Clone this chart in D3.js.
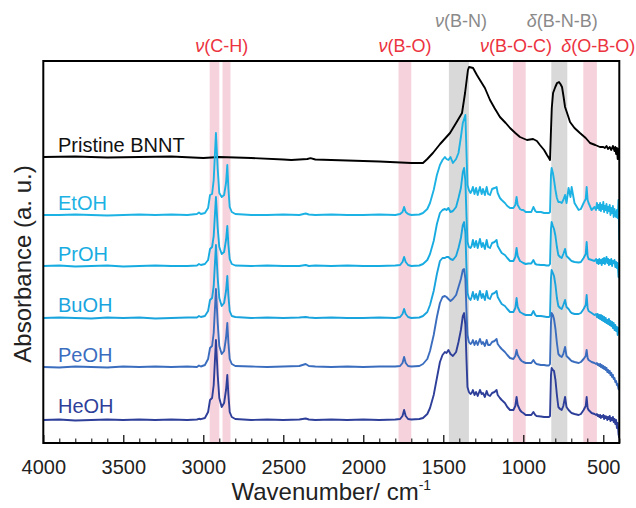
<!DOCTYPE html>
<html><head><meta charset="utf-8">
<script src="https://cdn.jsdelivr.net/npm/d3@7/dist/d3.min.js"></script>
<style>
html,body{margin:0;padding:0;background:#fff;}
svg{display:block;font-family:"Liberation Sans",Arial,Helvetica,sans-serif;}
</style></head>
<body><svg id="chart" width="636" height="508"></svg>
<script>
// ---------------- DATA ----------------
const majorTicks = [4000,3500,3000,2500,2000,1500,1000,500];
const seriesNames = ["EtOH","PrOH","BuOH","PeOH","HeOH"];
const seriesColors = ["#1db2e4","#17ace1","#1aa4de","#3b6dbf","#2e3f9a"];
const seriesOffsets = [2.28,1.77,1.25,0.76,0.23];
const pristineName = "Pristine BNNT";
const pristineOffset = 2.86;
const redBands = [[2960,2900],[2880,2830],[1780,1700],[1065,985],[625,540]];
const grayBands = [[1465,1340],[825,725]];
const redLabels = [["ν","(C-H)",2885],["ν","(B-O)",1740],["ν","(B-O-C)",1045],["δ","(O-B-O)",532]];
const grayLabels = [["ν","(B-N)",1390],["δ","(B-N-B)",757]];

const pristineWn = [4000,3800,3600,3400,3200,3000,2900,2700,2500,2450,2350,2330,2300,2100,1900,1700,1627,1600,1565,1520,1458,1420,1383,1364,1346,1339,1326,1314,1290,1271,1240,1208,1180,1146,1110,1083,1050,1021,977,939,915,896,870,852,840,833,828,822,814,800,789,777,768,758,748,739,720,708,680,646,610,583,550,521,500,490,480,470,460,450,440,430,425,420,415,410,405,400];
const pristineAbs = [0,0.005,-0.005,0,0.005,-0.01,0,-0.01,-0.025,-0.03,-0.02,-0.012,-0.025,-0.035,-0.045,-0.06,-0.06,-0.02,0.04,0.13,0.24,0.34,0.44,0.64,0.87,0.90,0.895,0.89,0.82,0.77,0.69,0.57,0.49,0.40,0.34,0.29,0.24,0.20,0.17,0.18,0.16,0.12,0.07,0.02,-0.01,-0.03,0.22,0.49,0.64,0.70,0.74,0.75,0.73,0.70,0.60,0.50,0.41,0.35,0.29,0.24,0.19,0.14,0.12,0.10,0.10,0.09,0.11,0.08,0.10,0.07,0.11,0.06,0.10,0.03,0.09,-0.02,0.08,-0.03];

const treatedWn = [4000,3900,3800,3700,3600,3500,3400,3300,3200,3100,
 3040,3027,3015,2990,2970,2958,2945,2935,2921,2910,
 2900,2885,2870,2858,2850,2843,2835,2822,2800,2700,
 2600,2500,2400,2360,2340,2300,2200,2100,2000,1900,
 1800,1770,1755,1745,1735,1720,1700,1650,1627,1600,
 1583,1560,1540,1521,1505,1490,1480,1468,1455,1440,
 1420,1405,1390,1378,1370,1362,1355,1349,1340,1330,
 1323,1315,1305,1295,1285,1271,1260,1252,1240,1229,
 1220,1208,1195,1180,1167,1160,1146,1135,1115,1100,
 1083,1062,1050,1042,1035,1021,1010,1000,985,969,
 950,937,925,917,890,870,854,840,833,827,
 823,815,808,799,790,781,770,760,750,739,
 730,717,705,698,680,654,640,623,610,604,
 598,592,573,555,545,540,535,530,525,520,
 515,510,505,500,495,490,485,480,475,470,
 465,460,455,450,445,440,435,430,425,420,
 415,410,405,400];

const etohAbs = [0.00,0.00,0.005,0.00,-0.005,0.00,0.005,0.00,0.005,0.00,
 0.01,0.025,0.01,0.02,0.07,0.20,0.21,0.35,0.82,0.46,
 0.22,0.18,0.20,0.32,0.50,0.26,0.08,0.03,0.01,0.00,
 0.00,0.005,0.00,0.015,0.005,0.00,0.005,0.00,0.00,0.005,
 0.00,0.01,0.03,0.08,0.03,0.01,0.00,0.005,0.02,0.06,
 0.12,0.25,0.40,0.50,0.55,0.58,0.56,0.55,0.58,0.52,
 0.56,0.62,0.78,0.92,0.96,1.00,0.62,0.30,0.25,0.22,
 0.24,0.28,0.21,0.27,0.20,0.28,0.21,0.26,0.20,0.28,
 0.21,0.20,0.26,0.27,0.28,0.22,0.17,0.15,0.12,0.09,
 0.07,0.07,0.10,0.18,0.10,0.06,0.05,0.05,0.03,0.03,
 0.03,0.08,0.04,0.03,0.03,0.02,0.02,0.02,0.03,0.40,
 0.47,0.42,0.35,0.25,0.17,0.13,0.13,0.12,0.15,0.20,
 0.12,0.27,0.18,0.28,0.12,0.05,0.06,0.12,0.16,0.28,
 0.15,0.12,0.05,0.08,0.05,0.12,0.07,0.10,0.05,0.12,
 0.04,0.10,0.06,0.13,0.03,0.09,0.05,0.11,0.02,0.08,
 0.04,0.10,0.00,0.07,0.02,0.09,-0.02,0.06,0.00,-0.02,
 0.05,-0.03,0.15,-0.25];

const prohAbs = [0.00,0.005,-0.005,0.00,0.005,-0.005,0.00,0.005,0.00,0.00,
 0.005,0.02,0.01,0.02,0.06,0.17,0.19,0.30,0.69,0.38,
 0.19,0.12,0.14,0.26,0.40,0.21,0.07,0.02,0.005,0.00,
 0.005,0.00,0.00,0.01,0.00,0.005,0.00,0.005,0.00,0.00,
 0.005,0.01,0.04,0.09,0.04,0.01,0.00,0.005,0.02,0.06,
 0.12,0.25,0.42,0.53,0.56,0.57,0.56,0.58,0.54,0.55,
 0.59,0.68,0.78,0.94,0.98,0.85,0.50,0.24,0.19,0.18,
 0.20,0.26,0.19,0.25,0.18,0.27,0.19,0.23,0.17,0.26,
 0.19,0.18,0.23,0.24,0.26,0.20,0.16,0.13,0.11,0.08,
 0.05,0.05,0.09,0.18,0.10,0.05,0.04,0.03,0.02,0.025,
 0.025,0.06,0.02,0.015,0.01,0.01,0.005,0.005,0.02,0.37,
 0.44,0.40,0.37,0.30,0.19,0.11,0.09,0.08,0.12,0.17,
 0.10,0.08,0.06,0.05,0.04,0.035,0.04,0.08,0.12,0.24,
 0.10,0.07,0.06,0.05,0.07,0.03,0.06,0.02,0.07,0.03,
 0.06,0.01,0.07,0.03,0.08,0.02,0.06,0.09,0.03,0.07,
 0.01,0.06,0.02,0.07,0.00,0.05,0.03,0.06,-0.01,0.04,
 -0.02,0.03,-0.11,-0.05];

const buohAbs = [0.00,0.005,0.00,-0.005,0.005,0.00,0.005,-0.005,0.00,0.005,
 0.005,0.02,0.01,0.02,0.07,0.18,0.20,0.32,0.73,0.40,
 0.20,0.12,0.15,0.27,0.42,0.22,0.07,0.02,0.01,0.00,
 0.005,0.00,0.005,0.01,0.005,0.00,0.005,0.00,0.00,0.005,
 0.00,0.01,0.04,0.09,0.04,0.01,0.00,0.005,0.02,0.06,
 0.13,0.27,0.44,0.57,0.60,0.60,0.61,0.61,0.59,0.58,
 0.62,0.70,0.80,0.93,0.96,0.85,0.50,0.25,0.20,0.18,
 0.21,0.26,0.19,0.24,0.18,0.27,0.20,0.24,0.18,0.27,
 0.20,0.19,0.24,0.25,0.27,0.21,0.17,0.14,0.12,0.09,
 0.06,0.06,0.10,0.20,0.11,0.06,0.05,0.04,0.03,0.03,
 0.03,0.07,0.03,0.02,0.02,0.015,0.01,0.01,0.02,0.40,
 0.48,0.45,0.42,0.33,0.20,0.12,0.10,0.09,0.13,0.18,
 0.11,0.09,0.06,0.05,0.04,0.04,0.05,0.09,0.13,0.23,
 0.10,0.07,0.05,0.03,0.04,0.01,0.04,0.00,0.03,-0.01,
 0.03,-0.02,0.02,-0.03,0.01,-0.04,0.00,-0.05,-0.02,-0.06,
 -0.01,-0.07,-0.03,-0.08,-0.04,-0.10,-0.05,-0.12,-0.07,-0.13,
 -0.09,-0.17,-0.10,-0.16];

const peohAbs = [0.00,-0.005,0.005,0.00,-0.005,0.005,0.00,0.005,0.00,0.005,
 0.00,0.015,0.005,0.02,0.08,0.19,0.21,0.34,0.78,0.44,
 0.21,0.13,0.16,0.29,0.44,0.24,0.08,0.03,0.01,0.005,
 0.00,0.005,0.01,0.03,0.01,0.005,0.00,0.005,0.00,0.005,
 0.005,0.01,0.04,0.10,0.04,0.01,0.005,0.01,0.03,0.08,
 0.16,0.32,0.50,0.64,0.70,0.71,0.70,0.68,0.66,0.68,
 0.72,0.80,0.88,0.97,0.98,0.88,0.55,0.32,0.25,0.23,
 0.24,0.27,0.22,0.26,0.22,0.28,0.23,0.25,0.21,0.27,
 0.22,0.22,0.25,0.26,0.28,0.23,0.20,0.18,0.15,0.12,
 0.09,0.08,0.11,0.17,0.12,0.08,0.06,0.05,0.04,0.04,
 0.04,0.07,0.04,0.03,0.02,0.02,0.015,0.015,0.03,0.45,
 0.54,0.52,0.48,0.38,0.24,0.13,0.11,0.10,0.13,0.20,
 0.11,0.09,0.07,0.06,0.05,0.04,0.05,0.08,0.11,0.17,
 0.09,0.07,0.05,0.04,0.03,0.04,0.02,0.03,0.01,0.03,
 0.00,0.02,-0.01,0.01,-0.02,0.00,-0.03,-0.01,-0.05,-0.03,
 -0.06,-0.04,-0.08,-0.06,-0.10,-0.08,-0.12,-0.11,-0.15,-0.14,
 -0.18,-0.17,-0.22,-0.23];

const heohAbs = [0.00,0.005,-0.005,0.00,0.005,0.00,0.005,0.00,0.005,0.00,
 0.005,0.012,0.008,0.02,0.08,0.20,0.22,0.35,0.80,0.45,
 0.22,0.13,0.17,0.30,0.45,0.25,0.08,0.03,0.01,0.00,
 0.005,0.00,0.005,0.015,0.005,0.00,0.005,0.00,0.005,0.00,
 0.005,0.01,0.04,0.10,0.04,0.01,0.005,0.01,0.02,0.06,
 0.12,0.25,0.42,0.58,0.65,0.68,0.67,0.70,0.66,0.64,
 0.68,0.78,0.90,1.04,1.07,0.95,0.60,0.33,0.28,0.26,
 0.27,0.30,0.25,0.28,0.24,0.30,0.26,0.27,0.23,0.29,
 0.25,0.24,0.27,0.28,0.30,0.25,0.22,0.20,0.17,0.13,
 0.10,0.10,0.14,0.23,0.15,0.10,0.08,0.07,0.05,0.05,
 0.05,0.08,0.05,0.04,0.035,0.03,0.03,0.03,0.04,0.45,
 0.52,0.50,0.49,0.40,0.25,0.13,0.11,0.10,0.14,0.23,
 0.13,0.10,0.08,0.07,0.06,0.05,0.06,0.10,0.14,0.23,
 0.12,0.10,0.07,0.06,0.05,0.06,0.04,0.05,0.03,0.05,
 0.02,0.04,0.03,0.05,0.01,0.04,0.02,0.035,0.00,0.03,
 0.01,0.04,-0.01,0.02,0.00,0.03,-0.02,0.01,-0.04,0.00,
 -0.08,-0.03,-0.14,-0.18];

const seriesAbs = [etohAbs, prohAbs, buohAbs, peohAbs, heohAbs];

// ---------------- LAYOUT ----------------
const L = 43.3, R = 619.3, T = 61, B = 443;
const svg = d3.select("#chart");
const x = d3.scaleLinear().domain([4000, 400]).range([L, R]);
const y = d3.scaleLinear().domain([0, 3.82]).range([B, T]);

svg.append("clipPath").attr("id","clip").append("rect")
  .attr("x", L).attr("y", T).attr("width", R-L).attr("height", B-T);

const bandG = svg.append("g").attr("clip-path","url(#clip)");
bandG.selectAll("rect.red").data(redBands).join("rect")
  .attr("x", d => x(d[0])).attr("width", d => x(d[1]) - x(d[0]))
  .attr("y", T).attr("height", B-T).attr("fill", "#f6d3dc");
bandG.selectAll("rect.gray").data(grayBands).join("rect")
  .attr("x", d => x(d[0])).attr("width", d => x(d[1]) - x(d[0]))
  .attr("y", T).attr("height", B-T).attr("fill", "#d9d9d9");

const lineG = svg.append("g").attr("clip-path","url(#clip)");
function drawLine(wn, vals, off, color){
  const line = d3.line().x((d,i)=>x(wn[i])).y(d=>y(d+off));
  lineG.append("path").datum(vals).attr("d", line)
    .attr("fill","none").attr("stroke",color).attr("stroke-width",1.9)
    .attr("stroke-linejoin","round");
}
drawLine(pristineWn, pristineAbs, pristineOffset, "#000");
seriesAbs.forEach((vals,i)=>drawLine(treatedWn, vals, seriesOffsets[i], seriesColors[i]));

// axes
const minorTicks = d3.range(4000, 399, -100).filter(v => v % 500 !== 0);
svg.append("g").attr("transform",`translate(0,${B})`)
  .call(d3.axisBottom(x).tickValues(minorTicks).tickSize(-4.5).tickFormat(""))
  .call(g=>g.select(".domain").remove())
  .call(g=>g.selectAll("line").attr("stroke","#000").attr("stroke-width",1));
const ax = svg.append("g").attr("transform",`translate(0,${B})`)
  .attr("font-family","Liberation Sans, Arial, sans-serif")
  .call(d3.axisBottom(x).tickValues(majorTicks).tickSize(-8).tickPadding(17).tickFormat(d3.format("d")))
  .call(g=>g.select(".domain").remove())
  .call(g=>g.selectAll("line").attr("stroke","#000").attr("stroke-width",1.2));
ax.attr("font-family","Liberation Sans, Arial, sans-serif");
ax.selectAll("text").attr("font-size",20).attr("fill","#222");

svg.append("rect").attr("x",L).attr("y",T).attr("width",R-L).attr("height",B-T)
  .attr("fill","none").attr("stroke","#000").attr("stroke-width",2);

// axis titles
const xt = svg.append("text").attr("x",(L+R)/2).attr("y",500).attr("text-anchor","middle")
  .attr("font-size",24).attr("fill","#222");
xt.append("tspan").text("Wavenumber/ cm");
xt.append("tspan").attr("font-size",14).attr("dy",-10).text("-1");
svg.append("text").attr("transform",`translate(31,${264}) rotate(-90)`).attr("text-anchor","middle")
  .attr("font-size",24).attr("fill","#222").text("Absorbance (a. u.)");

// series labels
const labelBase = [210,261,312,362,413];
svg.append("text").attr("x",58).attr("y",152).attr("font-size",20).attr("fill","#111").text(pristineName);
seriesNames.forEach((n,i)=>svg.append("text").attr("x",58).attr("y",labelBase[i])
  .attr("font-size",20).attr("fill",seriesColors[i]).text(n));

// band annotations
function ann(list, color, yy){
  list.forEach(d=>{
    const t = svg.append("text").attr("x", x(d[2])).attr("y", yy).attr("text-anchor","middle")
      .attr("font-size",18).attr("fill",color);
    t.append("tspan").attr("font-style","italic").text(d[0]);
    t.append("tspan").text(d[1]);
  });
}
ann(redLabels, "#ec3340", 52);
ann(grayLabels, "#8a8a8a", 27);
</script></body></html>
